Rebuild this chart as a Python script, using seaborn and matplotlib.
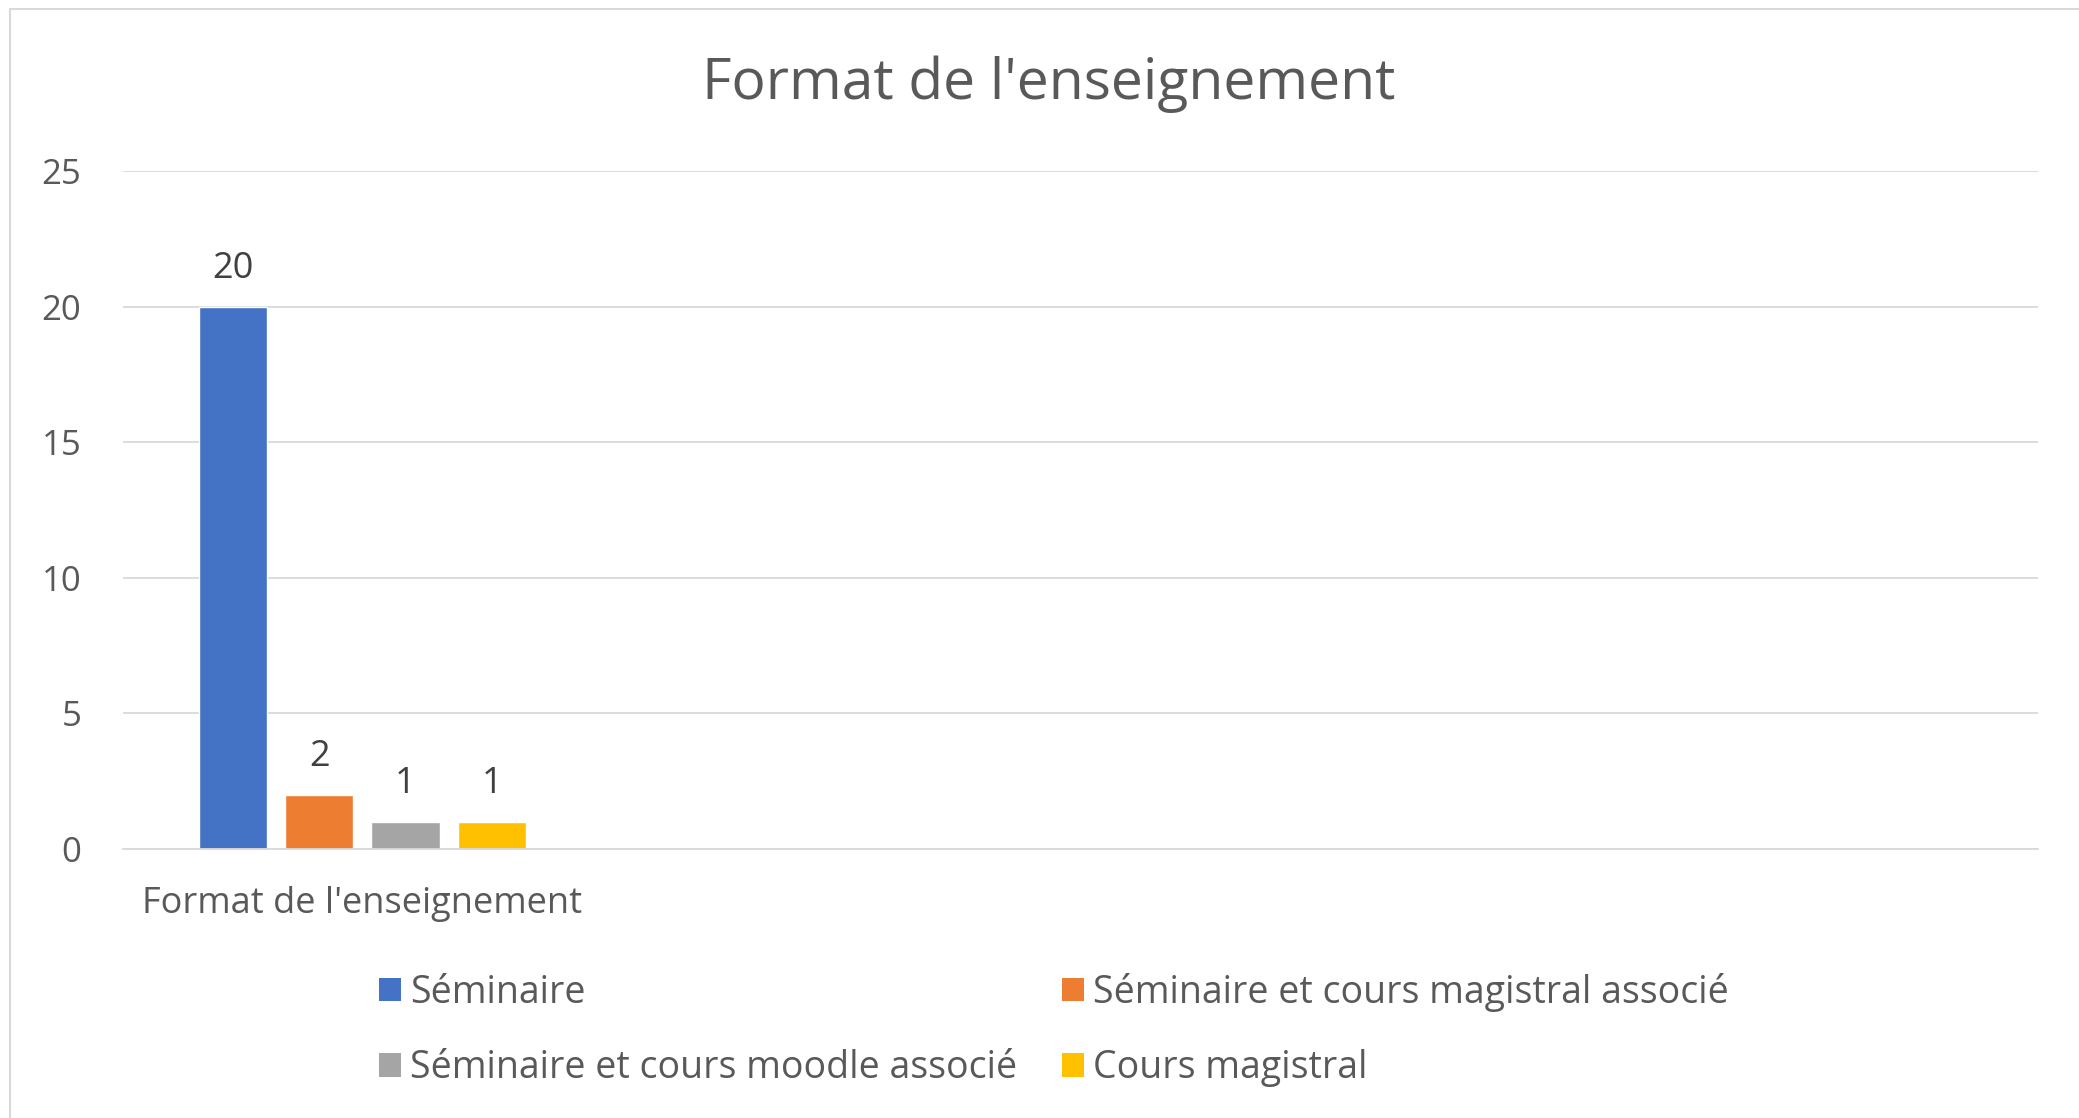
import matplotlib
matplotlib.use("Agg")
import matplotlib.pyplot as plt
import seaborn as sns
import pandas as pd
from matplotlib.patches import Rectangle, Patch

category = ["Format de l'enseignement"]
series = ["Séminaire", "Séminaire et cours magistral associé",
          "Séminaire et cours moodle associé", "Cours magistral"]
values = [20, 2, 1, 1]
colors = ["#4472C4", "#ED7D31", "#A5A5A5", "#FFC000"]
yticks = [0, 5, 10, 15, 20, 25]

df = pd.DataFrame({"cat": category * len(series), "serie": series, "val": values})

sns.set_theme(style="white")
plt.rcParams['font.family'] = ['Open Sans', 'DejaVu Sans']

W, H = 2079, 1118
fig = plt.figure(figsize=(W / 100, H / 100), dpi=100)
ax = fig.add_axes([123 / W, 1 - 849 / H, (2038 - 123) / W, (849 - 171) / H])

sns.barplot(data=df, x="cat", y="val", hue="serie", hue_order=series,
            palette=colors, width=0.72, gap=0.21, ax=ax, legend=False,
            saturation=1)

ax.set_xlim(-0.5, 3.5)
ax.set_ylim(0, 25)
ax.set_yticks(yticks)
ax.set_yticklabels([str(t) for t in yticks], fontsize=25, color="#595959")
ax.tick_params(axis="y", length=0, pad=30)
ax.tick_params(axis="x", length=0, pad=27, labelsize=26, labelcolor="#595959")
ax.yaxis.grid(True, color="#d9d9d9", linewidth=1.3)
ax.set_axisbelow(True)
for s in ["top", "right", "left"]:
    ax.spines[s].set_visible(False)
ax.spines["bottom"].set_color("#d9d9d9")
ax.spines["bottom"].set_linewidth(1.3)
ax.set_xlabel("")
ax.set_ylabel("")

for cont in ax.containers:
    ax.bar_label(cont, fmt="%d", padding=14, fontsize=26, color="#404040")

fig.text(1049 / W, 1 - 84 / H, "Format de l'enseignement", ha="center", va="center",
         fontsize=41, color="#595959")

order = [0, 2, 1, 3]
handles = [Patch(facecolor=colors[i], edgecolor="none") for i in order]
labels = [series[i] for i in order]
leg = fig.legend(handles, labels, ncol=2, loc="upper left",
                 bbox_to_anchor=(379 / W, 1 - 973 / H), frameon=False,
                 fontsize=27, labelcolor="#595959", handlelength=0.58,
                 handleheight=0.58, handletextpad=0.25, columnspacing=1.2,
                 labelspacing=0.99, borderpad=0, borderaxespad=0)

fig.patches.append(Rectangle((10 / W, -0.01), 1.1, 1 - 9 / H + 0.01,
                             transform=fig.transFigure, fill=False,
                             edgecolor="#d9d9d9", linewidth=1.5))

fig.savefig("out.png", dpi=100, facecolor="white")
